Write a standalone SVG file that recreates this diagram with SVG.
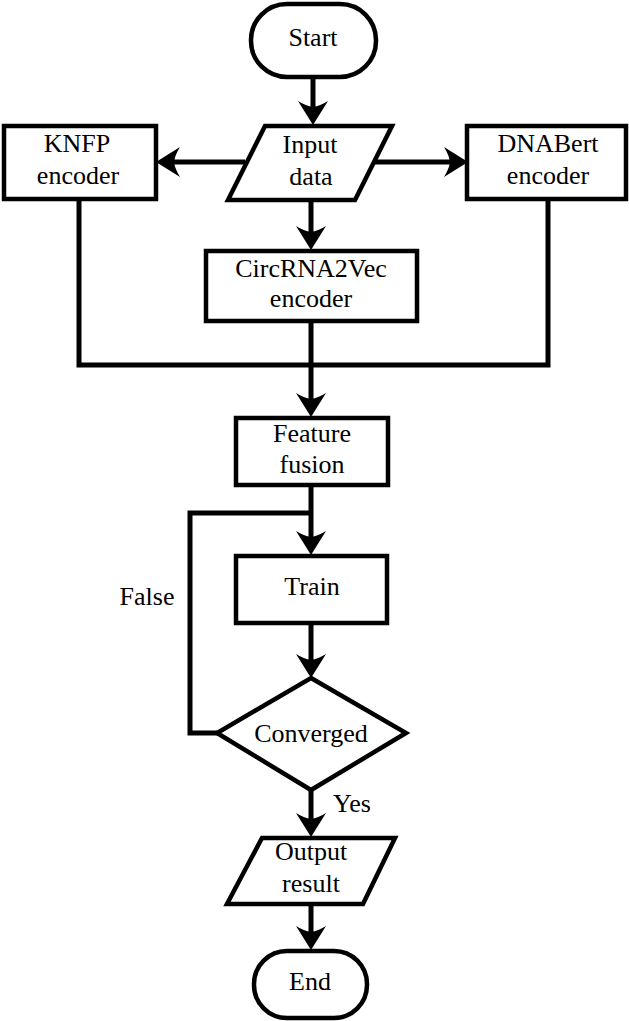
<svg xmlns="http://www.w3.org/2000/svg" width="629" height="1021" viewBox="0 0 629 1021">
<style>
.s{fill:#fff;stroke:#000;stroke-width:4.5}
.c{fill:none;stroke:#000;stroke-width:5}
</style>
<defs>
<marker id="ah" markerUnits="userSpaceOnUse" viewBox="-20 -16 30 32" markerWidth="30" markerHeight="32" refX="0" refY="0" orient="auto">
<path d="M8,0 L-16,-15 Q-11,-7 -10,0 Q-11,7 -16,15 Z" fill="#000"/>
</marker>
</defs>
<g id="connectors">
<path class="c" d="M313,77 V117" marker-end="url(#ah)"/>
<path class="c" d="M245,162 H164" marker-end="url(#ah)"/>
<path class="c" d="M375,162 H460" marker-end="url(#ah)"/>
<path class="c" d="M311,200 V242" marker-end="url(#ah)"/>
<path class="c" d="M79,199 V365 H548 V199"/>
<path class="c" d="M311,321 V409" marker-end="url(#ah)"/>
<path class="c" d="M311,485 V547" marker-end="url(#ah)"/>
<path class="c" d="M311,513 H190 V733 H217"/>
<path class="c" d="M311,623 V670" marker-end="url(#ah)"/>
<path class="c" d="M311,790 V829" marker-end="url(#ah)"/>
<path class="c" d="M311,904 V942" marker-end="url(#ah)"/>
</g>
<g font-family="Liberation Serif" font-size="26" text-anchor="middle" fill="#000">
<text x="352" y="812">Yes</text>
<text x="147" y="605">False</text>
</g>
<g id="start" font-family="Liberation Serif" font-size="26" text-anchor="middle">
<rect class="s" x="251" y="4" width="125" height="73" rx="36"/>
<text x="313" y="46">Start</text>
</g>
<g id="input" font-family="Liberation Serif" font-size="26" text-anchor="middle">
<polygon class="s" points="265,126 392,126 355,200 228,200"/>
<text x="310" y="153">Input</text>
<text x="311" y="185">data</text>
</g>
<g id="knfp" font-family="Liberation Serif" font-size="26" text-anchor="middle">
<rect class="s" x="4" y="126" width="152" height="73"/>
<text x="77" y="152">KNFP</text>
<text x="78" y="184">encoder</text>
</g>
<g id="dnabert" font-family="Liberation Serif" font-size="26" text-anchor="middle">
<rect class="s" x="467" y="126" width="159" height="73"/>
<text x="548" y="152">DNABert</text>
<text x="548" y="184">encoder</text>
</g>
<g id="circ" font-family="Liberation Serif" font-size="26" text-anchor="middle">
<rect class="s" x="206" y="251" width="211" height="70"/>
<text x="311" y="277">CircRNA2Vec</text>
<text x="311" y="307">encoder</text>
</g>
<g id="fusion" font-family="Liberation Serif" font-size="26" text-anchor="middle">
<rect class="s" x="236" y="418" width="152" height="67"/>
<text x="312" y="442">Feature</text>
<text x="312" y="473">fusion</text>
</g>
<g id="train" font-family="Liberation Serif" font-size="26" text-anchor="middle">
<rect class="s" x="236" y="556" width="151" height="67"/>
<text x="312" y="595">Train</text>
</g>
<g id="converged" font-family="Liberation Serif" font-size="26" text-anchor="middle">
<polygon class="s" points="311,678 406,733 311,790 217,733"/>
<text x="311" y="742">Converged</text>
</g>
<g id="output" font-family="Liberation Serif" font-size="26" text-anchor="middle">
<polygon class="s" points="262,838 395,838 363,904 227,904"/>
<text x="311" y="860">Output</text>
<text x="311" y="892">result</text>
</g>
<g id="end" font-family="Liberation Serif" font-size="26" text-anchor="middle">
<rect class="s" x="254" y="951" width="113" height="67" rx="33"/>
<text x="310" y="990">End</text>
</g>
</svg>
